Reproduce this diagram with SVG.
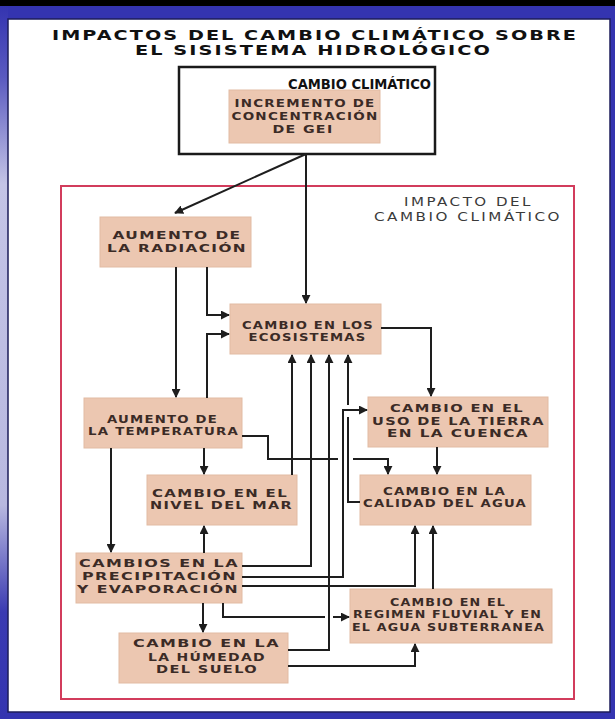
<svg xmlns="http://www.w3.org/2000/svg" width="615" height="719" viewBox="0 0 615 719">
<defs>
<linearGradient id="leftg" x1="0" y1="0" x2="0" y2="1">
<stop offset="0" stop-color="#3434b0"/>
<stop offset="0.1" stop-color="#5a5ac0"/>
<stop offset="0.25" stop-color="#c4c4e6"/>
<stop offset="0.7" stop-color="#b8b8e0"/>
<stop offset="0.85" stop-color="#3a3ab2"/>
<stop offset="1" stop-color="#3434b0"/>
</linearGradient>
<marker id="ah" viewBox="0 0 10 10" refX="9" refY="5" markerWidth="9" markerHeight="9" markerUnits="userSpaceOnUse" orient="auto">
<path d="M0,0 L10,5 L0,10 z" fill="#1e1e1e"/>
</marker>
<style>
.box{fill:#ecc7b1;stroke:#e2bba3;stroke-width:1}
.lbl{font-family:"DejaVu Sans","Liberation Sans",sans-serif;font-weight:bold;font-size:10.8px;letter-spacing:1px;fill:#3b2b26;text-anchor:middle}
.c{fill:none;stroke:#1e1e1e;stroke-width:2}
.ca{fill:none;stroke:#1e1e1e;stroke-width:2;marker-end:url(#ah)}
.title{font-family:"DejaVu Sans","Liberation Sans",sans-serif;font-weight:bold;font-size:14px;letter-spacing:1.5px;fill:#111;text-anchor:middle}
.imp{font-family:"DejaVu Sans","Liberation Sans",sans-serif;font-size:12px;letter-spacing:2px;fill:#3a3a3a;text-anchor:middle}
</style>
</defs>
<rect x="0" y="0" width="615" height="719" fill="#3434b0"/>
<rect x="0" y="6" width="8" height="713" fill="url(#leftg)"/>
<rect x="0" y="0" width="615" height="6" fill="#000"/>
<rect x="8" y="19" width="602" height="693" fill="#fff" stroke="#1c1c5a" stroke-width="1.5"/>

<g id="title">
<text class="title" x="315" y="40" textLength="526" lengthAdjust="spacingAndGlyphs">IMPACTOS DEL CAMBIO CLIMÁTICO SOBRE</text>
<text class="title" x="313.5" y="55" textLength="357" lengthAdjust="spacingAndGlyphs">EL SISISTEMA HIDROLÓGICO</text>
</g>

<g id="cambio-climatico">
<rect x="179" y="67" width="256" height="87" fill="#fff" stroke="#1a1a1a" stroke-width="2.5"/>
<text x="431" y="89" text-anchor="end" font-family="'DejaVu Sans Condensed','DejaVu Sans',sans-serif" font-stretch="condensed" font-weight="bold" font-size="14.5" fill="#111" textLength="143" lengthAdjust="spacingAndGlyphs">CAMBIO CLIMÁTICO</text>
</g>

<g id="incremento">
<rect class="box" x="229" y="90" width="151" height="53"/>
<text class="lbl" x="305" y="107" textLength="141" lengthAdjust="spacingAndGlyphs">INCREMENTO DE</text>
<text class="lbl" x="305" y="120" textLength="147" lengthAdjust="spacingAndGlyphs">CONCENTRACIÓN</text>
<text class="lbl" x="303" y="133" textLength="61" lengthAdjust="spacingAndGlyphs">DE GEI</text>
</g>

<g id="impacto">
<rect x="61" y="186" width="513" height="513" fill="none" stroke="#d23c5c" stroke-width="2"/>
<text class="imp" x="468.5" y="206" textLength="129" lengthAdjust="spacingAndGlyphs">IMPACTO DEL</text>
<text class="imp" x="468" y="221" textLength="188" lengthAdjust="spacingAndGlyphs">CAMBIO CLIMÁTICO</text>
</g>

<g id="radiacion">
<rect class="box" x="100" y="217" width="151" height="50"/>
<text class="lbl" x="177" y="239" textLength="129" lengthAdjust="spacingAndGlyphs">AUMENTO DE</text>
<text class="lbl" x="177" y="252" textLength="140" lengthAdjust="spacingAndGlyphs">LA RADIACIÓN</text>
</g>

<g id="ecosistemas">
<rect class="box" x="230" y="304" width="151" height="50"/>
<text class="lbl" x="308" y="329" textLength="132" lengthAdjust="spacingAndGlyphs">CAMBIO EN LOS</text>
<text class="lbl" x="307.5" y="341" textLength="118" lengthAdjust="spacingAndGlyphs">ECOSISTEMAS</text>
</g>

<g id="temperatura">
<rect class="box" x="84" y="398" width="158" height="50"/>
<text class="lbl" x="162.5" y="423" textLength="111" lengthAdjust="spacingAndGlyphs">AUMENTO DE</text>
<text class="lbl" x="163.5" y="435" textLength="151" lengthAdjust="spacingAndGlyphs">LA TEMPERATURA</text>
</g>

<g id="nivel-mar">
<rect class="box" x="147" y="475" width="150" height="50"/>
<text class="lbl" x="220" y="497" textLength="136" lengthAdjust="spacingAndGlyphs">CAMBIO EN EL</text>
<text class="lbl" x="221.5" y="509" textLength="143" lengthAdjust="spacingAndGlyphs">NIVEL DEL MAR</text>
</g>

<g id="uso-tierra">
<rect class="box" x="368" y="397" width="180" height="50"/>
<text class="lbl" x="457" y="412" textLength="134" lengthAdjust="spacingAndGlyphs">CAMBIO EN EL</text>
<text class="lbl" x="458.5" y="425" textLength="173" lengthAdjust="spacingAndGlyphs">USO DE LA TIERRA</text>
<text class="lbl" x="458" y="437" textLength="142" lengthAdjust="spacingAndGlyphs">EN LA CUENCA</text>
</g>

<g id="calidad-agua">
<rect class="box" x="360" y="475" width="171" height="50"/>
<text class="lbl" x="444.5" y="495" textLength="123" lengthAdjust="spacingAndGlyphs">CAMBIO EN LA</text>
<text class="lbl" x="445" y="507" textLength="164" lengthAdjust="spacingAndGlyphs">CALIDAD DEL AGUA</text>
</g>

<g id="precipitacion">
<rect class="box" x="76" y="553" width="166" height="50"/>
<text class="lbl" x="159" y="567" textLength="160" lengthAdjust="spacingAndGlyphs">CAMBIOS EN LA</text>
<text class="lbl" x="159.5" y="580" textLength="155" lengthAdjust="spacingAndGlyphs">PRECIPITACIÓN</text>
<text class="lbl" x="158" y="593" textLength="162" lengthAdjust="spacingAndGlyphs">Y EVAPORACIÓN</text>
</g>

<g id="humedad">
<rect class="box" x="119" y="633" width="169" height="50"/>
<text class="lbl" x="206.5" y="647" textLength="147" lengthAdjust="spacingAndGlyphs">CAMBIO EN LA</text>
<text class="lbl" x="207" y="661" textLength="118" lengthAdjust="spacingAndGlyphs">LA HÚMEDAD</text>
<text class="lbl" x="207" y="673" textLength="102" lengthAdjust="spacingAndGlyphs">DEL SUELO</text>
</g>

<g id="regimen">
<rect class="box" x="350" y="589" width="202" height="54"/>
<text class="lbl" x="448" y="606" textLength="116" lengthAdjust="spacingAndGlyphs">CAMBIO EN EL</text>
<text class="lbl" x="447.5" y="618" textLength="189" lengthAdjust="spacingAndGlyphs">REGIMEN FLUVIAL Y EN</text>
<text class="lbl" x="448.5" y="631" textLength="193" lengthAdjust="spacingAndGlyphs">EL AGUA SUBTERRANEA</text>
</g>

<g id="connectors">
<path class="ca" d="M306,154 L175,213"/>
<path class="ca" d="M306,154 V303"/>
<path class="ca" d="M176,267 V397"/>
<path class="ca" d="M207,267 V315 H229"/>
<path class="ca" d="M207,398 V334 H229"/>
<path class="ca" d="M381,328 H431 V396"/>
<path class="ca" d="M292,475 V355"/>
<path class="ca" d="M242,566 H311 V355"/>
<path class="ca" d="M288,650 H329 V355"/>
<path class="c" d="M360,502 H348 V417"/>
<path class="ca" d="M348,405 V355"/>
<path class="ca" d="M242,577 H343 V410 H367"/>
<path class="c" d="M242,436 H268 V459 H338"/>
<path class="ca" d="M353,459 H388 V474"/>
<path class="ca" d="M437,447 V474"/>
<path class="ca" d="M242,586 H415 V526"/>
<path class="ca" d="M433,589 V526"/>
<path class="ca" d="M111,448 V552"/>
<path class="ca" d="M204,448 V474"/>
<path class="ca" d="M204,553 V526"/>
<path class="ca" d="M203,603 V632"/>
<path class="c" d="M223,603 V617 H325"/>
<path class="ca" d="M333,617 H349"/>
<path class="ca" d="M288,666 H415 V644"/>
</g>
</svg>
